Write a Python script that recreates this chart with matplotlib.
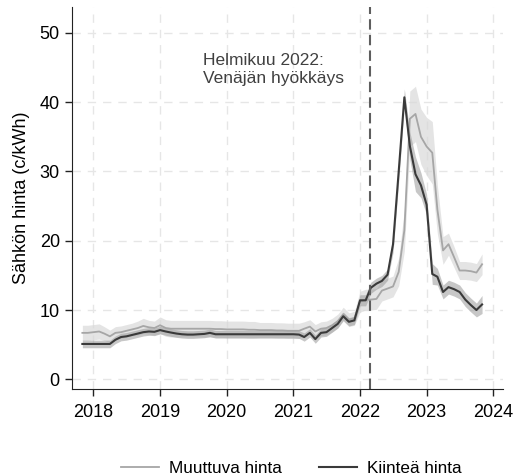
import matplotlib
matplotlib.use("Agg")
import matplotlib.pyplot as plt
import matplotlib.dates as mdates
import numpy as np
import pandas as pd

plt.rcParams['font.family'] = ['Liberation Sans', 'DejaVu Sans']

# monthly observations, Nov 2017 - Nov 2023
months = pd.date_range('2017-11-01', periods=73, freq='MS')

# variable-price contracts (c/kWh)
muuttuva = [6.7, 6.7, 6.8, 6.9, 6.6, 6.2, 6.7, 6.8, 7.0, 7.2, 7.4, 7.7, 7.5,
            7.4, 7.8, 7.4, 7.3, 7.3, 7.3, 7.3, 7.3, 7.3, 7.3, 7.3, 7.25, 7.25,
            7.2, 7.2, 7.2, 7.2, 7.15, 7.15, 7.1, 7.1, 7.1, 7.05, 7.05, 7.0,
            7.0, 7.0, 7.3, 7.6, 6.9, 7.3, 7.4, 7.8, 8.4, 9.4, 8.6, 8.8,
            11.2, 11.5, 11.5, 11.6, 12.8, 13.1, 13.4, 15.5, 21.5, 37.6, 38.3,
            35.0, 33.6, 32.7, 24.5, 18.6, 19.5, 17.6, 15.7, 15.7, 15.6, 15.4,
            16.6]
muuttuva_ci = [1.1, 1.1, 1.1, 1.1, 1.0, 0.9, 0.9, 0.9, 0.9, 0.9, 1.0, 1.1, 1.0,
               1.0, 1.2, 1.2, 1.2, 1.2, 1.2, 1.2, 1.2, 1.2, 1.2, 1.2, 1.2, 1.2,
               1.2, 1.2, 1.2, 1.2, 1.2, 1.2, 1.1, 1.1, 1.1, 1.1, 1.1, 1.1,
               1.1, 1.1, 1.0, 1.0, 1.0, 1.0, 1.0, 1.0, 1.0, 1.0, 1.0, 1.0,
               1.5, 1.5, 1.5, 1.5, 1.5, 1.5, 1.5, 2.0, 3.0, 4.0, 4.0,
               4.0, 4.2, 4.5, 3.5, 2.0, 1.6, 1.5, 1.3, 1.3, 1.3, 1.3,
               1.5]

# fixed-price contracts (c/kWh)
kiintea = [5.1, 5.1, 5.1, 5.1, 5.1, 5.1, 5.7, 6.1, 6.2, 6.4, 6.6, 6.8, 6.9,
           6.85, 7.1, 6.9, 6.75, 6.6, 6.5, 6.45, 6.45, 6.5, 6.55, 6.7, 6.5, 6.5,
           6.5, 6.5, 6.5, 6.5, 6.5, 6.5, 6.5, 6.5, 6.5, 6.5, 6.5, 6.5,
           6.5, 6.45, 6.1, 6.7, 5.8, 6.7, 6.8, 7.4, 8.0, 9.1, 8.3, 8.5,
           11.4, 11.4, 13.2, 13.8, 14.2, 15.1, 19.5, 30.0, 40.7, 33.7, 29.6,
           28.0, 25.2, 15.2, 14.8, 12.6, 13.3, 13.0, 12.6, 11.5, 10.7, 10.0,
           10.8]
kiintea_ci = [0.55] * 40 + [0.6] * 10 + [0.8, 0.8, 0.8, 0.8, 0.8, 0.8, 1.2,
              1.5, 1.2, 2.0, 2.5, 1.8, 1.5, 1.5, 1.2, 1.0, 1.0, 1.0, 1.0,
              1.0, 1.0, 1.0, 1.3]

yticks = [0, 10, 20, 30, 40, 50]
years = [2018, 2019, 2020, 2021, 2022, 2023, 2024]

fig = plt.figure(figsize=(5.14, 4.76), dpi=100)
ax = fig.add_axes([0.1407, 0.1828, 0.838, 0.802])

m = np.array(muuttuva)
mc = np.array(muuttuva_ci)
k = np.array(kiintea)
kc = np.array(kiintea_ci)

ax.fill_between(months, m - mc, m + mc, color='#d9d9d9', alpha=0.7, lw=0)
ax.fill_between(months, k - kc, k + kc, color='#9a9a9a', alpha=0.55, lw=0)
ax.plot(months, m, color='#a6a6a6', lw=1.3, label='Muuttuva hinta')
ax.plot(months, k, color='#3a3a3a', lw=1.5, label='Kiinteä hinta')

# invasion marker
invasion = pd.Timestamp('2022-02-24')
ax.axvline(invasion, color='#5e5e5e', lw=1.5, ls=(0, (5, 2.5)))
ax.text(pd.Timestamp('2019-08-25'), 47.1, 'Helmikuu 2022:\nVenäjän hyökkäys',
        ha='left', va='top', fontsize=12.5, color='#404040', linespacing=1.25)

ax.set_xlim(pd.Timestamp('2017-09-07'), pd.Timestamp('2024-02-24'))
ax.set_ylim(-1.4, 53.7)
ax.set_yticks(yticks)
ax.set_xticks([pd.Timestamp(f'{y}-01-01') for y in years])
ax.xaxis.set_major_formatter(mdates.DateFormatter('%Y'))

ax.grid(True, color='#e6e6e6', lw=1, ls=(0, (6, 5)))
ax.set_axisbelow(True)
for s in ['top', 'right']:
    ax.spines[s].set_visible(False)
ax.spines['left'].set_color('#222222')
ax.spines['bottom'].set_color('#222222')
ax.tick_params(labelsize=13, length=5, width=1, color='#222222', pad=4)
ax.tick_params(axis='x', pad=6)
ax.set_ylabel('Sähkön hinta (c/kWh)', fontsize=13, labelpad=7)

fig.legend(loc='center', bbox_to_anchor=(0.567, 0.016), ncol=2, frameon=False,
           fontsize=12.3, handlelength=2.2, handletextpad=0.6, columnspacing=2.2)

fig.savefig('out.png', dpi=100)
